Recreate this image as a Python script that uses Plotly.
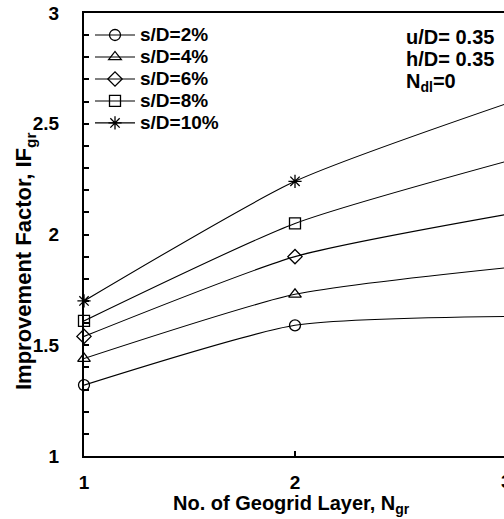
import plotly.graph_objects as go

# Number of geogrid layers
n_layers = [1, 2, 3]

# Improvement factor for each settlement ratio
series_names = ["s/D=2%", "s/D=4%", "s/D=6%", "s/D=8%", "s/D=10%"]
if_sd2 = [1.32, 1.59, 1.63]
if_sd4 = [1.44, 1.73, 1.85]
if_sd6 = [1.54, 1.90, 2.09]
if_sd8 = [1.61, 2.05, 2.33]
if_sd10 = [1.70, 2.24, 2.59]

series_values = [if_sd2, if_sd4, if_sd6, if_sd8, if_sd10]
symbols = ["circle-open", "triangle-up-open", "diamond-open", "square-open", "asterisk-open"]

y_ticks = [1, 1.5, 2, 2.5, 3]
x_ticks = [1, 2]

FONT = "Liberation Sans, Arial, sans-serif"


def bold(size):
    return dict(family=FONT, size=size, color="black", weight="bold")


# plot area in pixels: left 84, right 504, top 13, bottom 456
def px_x(p):
    return (p - 84) / 420


def px_y(p):
    return (456 - p) / 443


fig = go.Figure()
for name, vals, sym in zip(series_names, series_values, symbols):
    fig.add_trace(go.Scatter(
        x=n_layers, y=vals,
        name=f"<span style='font-size:19px'>{name}</span>",
        mode="lines+markers",
        line=dict(color="black", width=1.1, shape="spline", smoothing=0.6),
        marker=dict(symbol=sym, size=11, color="black",
                    line=dict(color="black", width=1.3)),
        cliponaxis=False,
    ))

fig.update_layout(
    width=504, height=519,
    margin=dict(l=84, r=0, t=13, b=63),
    paper_bgcolor="white", plot_bgcolor="white",
    font=bold(19),
    showlegend=True,
    legend=dict(x=px_x(90), y=px_y(19), xanchor="left", yanchor="top",
                bgcolor="rgba(0,0,0,0)", font=bold(14.6),
                itemwidth=40, tracegroupgap=0),
    xaxis=dict(range=[1, 1 + 420 / 211], tickvals=x_ticks,
               ticks="inside", ticklen=5, tickwidth=1.5, tickcolor="black",
               showline=True, linecolor="black", linewidth=2, mirror=True,
               showgrid=False, zeroline=False, ticklabelstandoff=8,
               tickfont=bold(19)),
    yaxis=dict(range=[1, 3], tickvals=y_ticks,
               ticks="inside", ticklen=5, tickwidth=1.5, tickcolor="black",
               minor=dict(dtick=0.1, ticks="inside", ticklen=5,
                          tickwidth=1.5, tickcolor="black"),
               showline=True, linecolor="black", linewidth=2, mirror=False,
               showgrid=False, zeroline=False, ticklabelstandoff=19,
               tickfont=bold(19)),
)

# Axis titles
fig.add_annotation(
    text="Improvement Factor, IF<sub>gr</sub>", textangle=-90,
    xref="paper", yref="paper", x=px_x(25), y=px_y(262),
    xanchor="center", yanchor="middle", showarrow=False, font=bold(22),
)
fig.add_annotation(
    text="No. of Geogrid Layer, N<sub>gr</sub>",
    xref="paper", yref="paper", x=px_x(291), y=px_y(504),
    xanchor="center", yanchor="middle", showarrow=False, font=bold(20),
)

# Last x tick label sits at the right edge of the figure
fig.add_annotation(
    text="3", xref="paper", yref="paper", x=px_x(506), y=px_y(481),
    xanchor="center", yanchor="middle", showarrow=False, font=bold(19),
)

# Test parameters
params = ["u/D= 0.35", "h/D= 0.35", "N<sub>dl</sub>=0"]
param_y = [37, 59, 83]
for txt, py in zip(params, param_y):
    fig.add_annotation(
        text=txt, xref="paper", yref="paper", x=px_x(404), y=px_y(py),
        xanchor="left", yanchor="middle", align="left", showarrow=False,
        font=bold(20),
    )

fig.write_html("out.html")
